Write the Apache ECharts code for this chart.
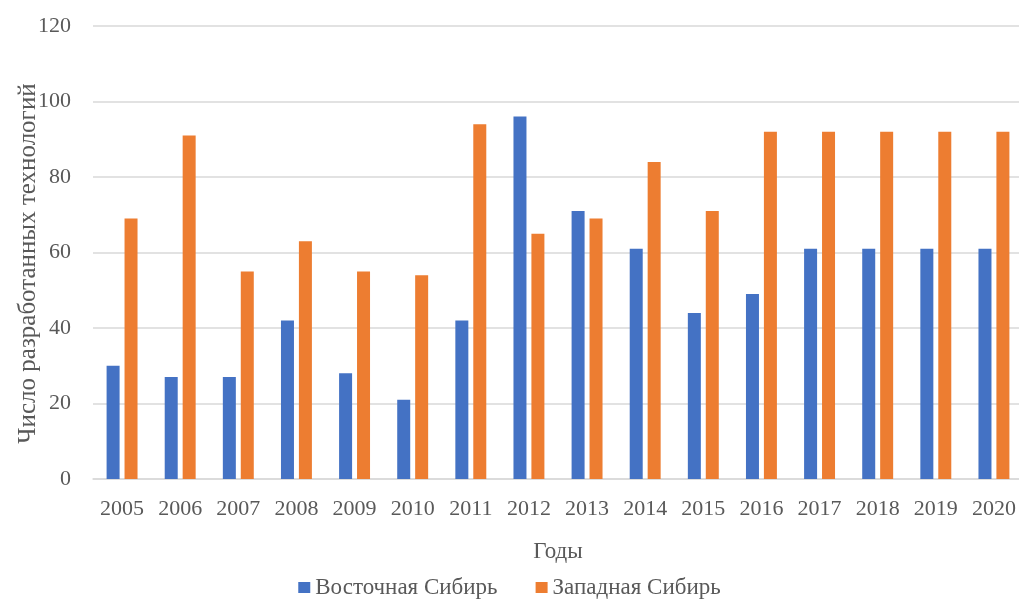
<!DOCTYPE html>
<html>
<head>
<meta charset="utf-8">
<script src="https://cdn.jsdelivr.net/npm/echarts@6/dist/echarts.min.js"></script>
<style>
  html, body { margin: 0; padding: 0; background: #ffffff; }
  #chart { width: 1019px; height: 599px; }
</style>
</head>
<body>
<div id="chart"></div>
<script>
// Years on the category axis
const years = ['2005', '2006', '2007', '2008', '2009', '2010', '2011', '2012',
               '2013', '2014', '2015', '2016', '2017', '2018', '2019', '2020'];

// Number of developed technologies per region
const eastSiberia = [30, 27, 27, 42, 28, 21, 42, 96, 71, 61, 44, 49, 61, 61, 61, 61];
const westSiberia = [69, 91, 55, 63, 55, 54, 94, 65, 69, 84, 71, 92, 92, 92, 92, 92];

// Value axis ticks
const yTicks = [0, 20, 40, 60, 80, 100, 120];

const seriesNames = ['Восточная Сибирь', 'Западная Сибирь'];
const xTitle = 'Годы';
const yTitle = 'Число разработанных технологий';

const FONT = '"Liberation Serif", "Times New Roman", serif';
const TEXT = '#595959';

const chart = echarts.init(document.getElementById('chart'), null, { renderer: 'canvas' });

chart.setOption({
  animation: false,
  textStyle: { fontFamily: FONT, color: TEXT },
  grid: {
    left: 93, right: -4, top: 26, bottom: 120,
    containLabel: false,
    outerBoundsMode: 'none'
  },
  legend: {
    top: 571,
    left: 'center',
    itemWidth: 12,
    itemHeight: 11,
    itemGap: 38,
    icon: 'rect',
    textStyle: { fontFamily: FONT, fontSize: 23, color: TEXT },
    data: seriesNames
  },
  xAxis: {
    type: 'category',
    data: years,
    name: xTitle,
    nameLocation: 'middle',
    nameGap: 61,
    nameMoveOverlap: false,
    nameTextStyle: { fontFamily: FONT, fontSize: 23, color: TEXT },
    axisLine: { show: true, lineStyle: { color: '#d9d9d9', width: 1.5 } },
    axisTick: { show: false },
    axisLabel: { fontFamily: FONT, fontSize: 22, color: TEXT, margin: 19 }
  },
  yAxis: {
    type: 'value',
    min: yTicks[0],
    max: yTicks[yTicks.length - 1],
    interval: yTicks[1] - yTicks[0],
    name: yTitle,
    nameLocation: 'middle',
    nameGap: 52,
    nameRotate: 90,
    nameMoveOverlap: false,
    nameTextStyle: { fontFamily: FONT, fontSize: 25, color: TEXT, padding: [0, 22, 0, 0] },
    axisLine: { show: false },
    axisTick: { show: false },
    axisLabel: { fontFamily: FONT, fontSize: 22, color: TEXT, margin: 22 },
    splitLine: { lineStyle: { color: '#d9d9d9', width: 1.5 } }
  },
  series: [
    {
      name: seriesNames[0],
      type: 'bar',
      data: eastSiberia,
      barWidth: 13,
      barGap: '38%',
      itemStyle: { color: '#4472C4' }
    },
    {
      name: seriesNames[1],
      type: 'bar',
      data: westSiberia,
      barWidth: 13,
      barGap: '38%',
      itemStyle: { color: '#ED7D31' }
    }
  ]
});
</script>
</body>
</html>
